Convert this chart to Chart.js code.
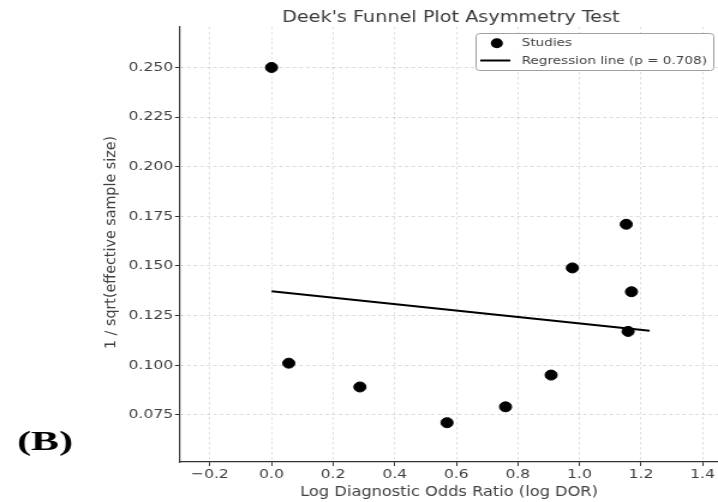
<!DOCTYPE html>
<html>
<head>
<meta charset="utf-8">
<script src="https://cdn.jsdelivr.net/npm/chart.js@4.4.1/dist/chart.umd.min.js"></script>
<style>
  html, body { margin: 0; padding: 0; background: #ffffff; overflow: hidden; }
  /* the figure is drawn on a narrower canvas and widened to the page width */
  #wrap { position: absolute; left: 0; top: 0; width: 598px; height: 502px;
          transform: scaleX(1.20067); transform-origin: 0 0; }
  #chart { display: block; }
</style>
</head>
<body>
<div id="wrap"><canvas id="chart"></canvas></div>
<script>
// Per-study values
const studyLogDOR     = [0.000, 0.056, 0.287, 0.570, 0.760, 0.908, 0.977, 1.152, 1.169, 1.158];
const studyInvSqrtESS = [0.250, 0.101, 0.089, 0.071, 0.079, 0.095, 0.149, 0.171, 0.137, 0.117];

// Fitted regression line end points
const regLineX = [0.000, 1.228];
const regLineY = [0.1373, 0.1173];
const regPValue = '0.708';

// Axis ticks and their labels
const xTicks = [-0.2, 0.0, 0.2, 0.4, 0.6, 0.8, 1.0, 1.2, 1.4];
const xTickLabels = ['\u22120.2', '0.0', '0.2', '0.4', '0.6', '0.8', '1.0', '1.2', '1.4'];
const yTicks = [0.075, 0.100, 0.125, 0.150, 0.175, 0.200, 0.225, 0.250];
const yTickLabels = ['0.075', '0.100', '0.125', '0.150', '0.175', '0.200', '0.225', '0.250'];

const titleText = "Deek's Funnel Plot Asymmetry Test";
const xTitleText = 'Log Diagnostic Odds Ratio (log DOR)';
const yTitleText = '1 / sqrt(effective sample size)';
const legendLabels = ['Studies', 'Regression line (p = ' + regPValue + ')'];
const panelTag = '(B)';

const FONT = '"DejaVu Sans", sans-serif';
const TEXT_COLOR = '#404040';

const points = studyLogDOR.map((x, i) => ({ x: x, y: studyInvSqrtESS[i] }));
const linePts = regLineX.map((x, i) => ({ x: x, y: regLineY[i] }));

function txt(ctx, s, x, y, font, color, align, baseline) {
  ctx.save();
  ctx.font = font;
  ctx.fillStyle = color;
  ctx.textAlign = align || 'left';
  ctx.textBaseline = baseline || 'alphabetic';
  ctx.fillText(s, x, y);
  ctx.restore();
}

const annotations = {
  id: 'annotations',
  afterDraw(chart) {
    const ctx = chart.ctx;
    const xs = chart.scales.x, ys = chart.scales.y;
    const area = chart.chartArea;

    // tick labels
    yTicks.forEach((v, i) => {
      txt(ctx, yTickLabels[i], area.left - 5, ys.getPixelForValue(v), '13px ' + FONT, TEXT_COLOR, 'right', 'middle');
    });
    xTicks.forEach((v, i) => {
      txt(ctx, xTickLabels[i], xs.getPixelForValue(v), area.bottom + 16, '13px ' + FONT, TEXT_COLOR, 'center', 'alphabetic');
    });

    // title and axis titles
    txt(ctx, titleText, 375.5, 21.5, '16px ' + FONT, '#3a3a3a', 'center', 'alphabetic');
    txt(ctx, xTitleText, 374, 496, '13.5px ' + FONT, TEXT_COLOR, 'center', 'alphabetic');
    ctx.save();
    ctx.translate(93, 242.5);
    ctx.rotate(-Math.PI / 2);
    ctx.scale(1.1, 1);
    txt(ctx, yTitleText, 0, 0, '13px ' + FONT, TEXT_COLOR, 'center', 'middle');
    ctx.restore();

    // legend
    const bx = 396.5, by = 33.5, bw = 198, bh = 37;
    ctx.save();
    ctx.beginPath();
    ctx.roundRect(bx, by, bw, bh, 3);
    ctx.fillStyle = 'rgba(255,255,255,0.85)';
    ctx.fill();
    ctx.lineWidth = 1;
    ctx.strokeStyle = '#a0a0a0';
    ctx.stroke();
    ctx.beginPath();
    ctx.arc(413.8, 43.3, 5, 0, Math.PI * 2);
    ctx.fillStyle = '#000000';
    ctx.fill();
    ctx.beginPath();
    ctx.moveTo(400, 60.5);
    ctx.lineTo(425, 60.5);
    ctx.lineWidth = 2;
    ctx.strokeStyle = '#000000';
    ctx.stroke();
    ctx.restore();
    txt(ctx, legendLabels[0], 434.5, 43.5, '11.3px ' + FONT, TEXT_COLOR, 'left', 'middle');
    txt(ctx, legendLabels[1], 434.5, 61, '11.3px ' + FONT, TEXT_COLOR, 'left', 'middle');

    // panel tag
    ctx.save();
    ctx.translate(14.2, 450);
    ctx.scale(1.25, 1);
    txt(ctx, panelTag, 0, 0, 'bold 28px "Liberation Serif", serif', '#000000', 'left', 'alphabetic');
    ctx.restore();
  }
};

new Chart(document.getElementById('chart'), {
  type: 'scatter',
  data: {
    datasets: [
      {
        label: legendLabels[0],
        data: points,
        backgroundColor: '#000000',
        borderColor: '#000000',
        pointRadius: 5,
        pointHoverRadius: 5,
        pointStyle: 'circle',
        order: 1
      },
      {
        label: legendLabels[1],
        type: 'line',
        data: linePts,
        borderColor: '#000000',
        borderWidth: 2,
        pointRadius: 0,
        showLine: true,
        fill: false,
        order: 2
      }
    ]
  },
  options: {
    responsive: true,
    maintainAspectRatio: false,
    animation: false,
    events: [],
    layout: { autoPadding: false, padding: { top: 27, left: 0, right: 0, bottom: 0 } },
    plugins: {
      legend: { display: false },
      title: { display: false },
      tooltip: { enabled: false }
    },
    scales: {
      x: {
        type: 'linear',
        min: -0.30,
        max: 1.45,
        afterBuildTicks: (s) => { s.ticks = xTicks.map(v => ({ value: v })); },
        afterFit: (s) => { s.height = 40; },
        ticks: { display: false },
        grid: {
          color: 'rgba(0,0,0,0.14)',
          lineWidth: 0.9,
          drawTicks: true,
          tickLength: 4,
          tickColor: '#333333',
          tickWidth: 1
        },
        border: { display: true, color: '#333333', width: 1.2, dash: [2.5, 2.5] }
      },
      y: {
        type: 'linear',
        min: 0.0512,
        max: 0.2704,
        afterBuildTicks: (s) => { s.ticks = yTicks.map(v => ({ value: v })); },
        afterFit: (s) => { s.width = 149.2; },
        ticks: { display: false },
        grid: {
          color: 'rgba(0,0,0,0.14)',
          lineWidth: 1,
          drawTicks: true,
          tickLength: 3.4,
          tickColor: '#333333',
          tickWidth: 1
        },
        border: { display: true, color: '#333333', width: 1.2, dash: [3, 2.5] }
      }
    }
  },
  plugins: [annotations]
});
</script>
</body>
</html>
